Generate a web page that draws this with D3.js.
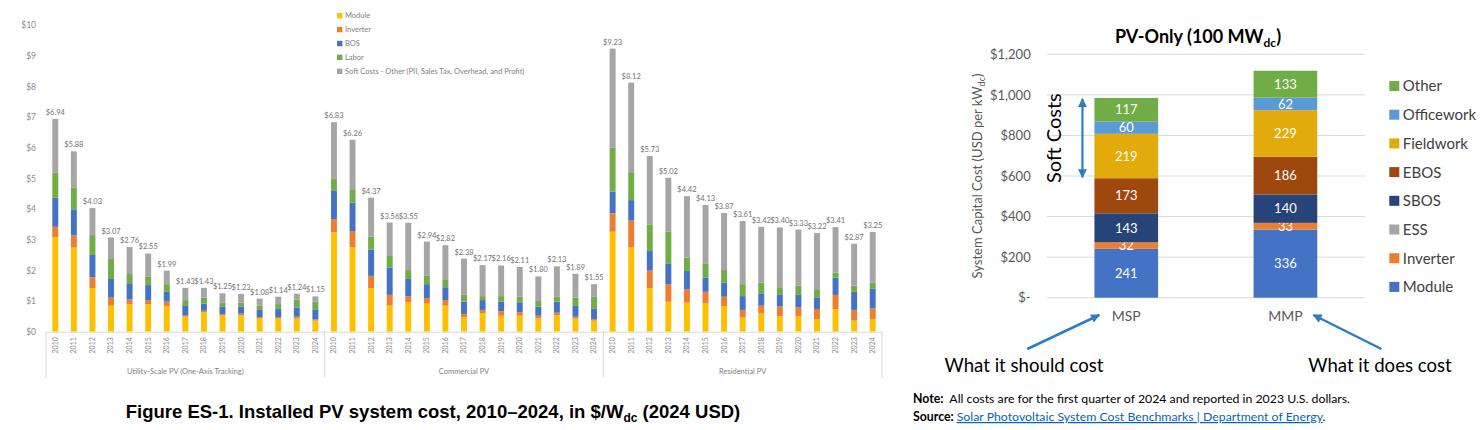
<!DOCTYPE html>
<html lang="en">
<head>
<meta charset="utf-8" />
<title>Installed PV system cost and PV-Only benchmark</title>
<script src="https://d3js.org/d3.v7.min.js"></script>
<style>
  body { margin: 0; background: #fff; }
  svg { display: block; }
</style>
</head>
<body>
<script>
// ---------- left chart data ($/Wdc) ----------
var years = ["2010","2011","2012","2013","2014","2015","2016","2017","2018","2019","2020","2021","2022","2023","2024"];
var sectors = ["Utility-Scale PV (One-Axis Tracking)", "Commercial PV", "Residential PV"];
var costParts = ["Module", "Inverter", "BOS", "Labor", "Soft Costs - Other (PII, Sales Tax, Overhead, and Profit)"];
var costTicks = [0,1,2,3,4,5,6,7,8,9,10];

var utilityModule   = [3.08,2.75,1.42,0.85,0.89,0.89,0.84,0.49,0.64,0.53,0.54,0.43,0.43,0.43,0.36];
var utilityInverter = [0.34,0.39,0.35,0.26,0.16,0.14,0.14,0.05,0.04,0.05,0.05,0.05,0.05,0.06,0.04];
var utilityBOS      = [0.95,0.85,0.73,0.61,0.53,0.49,0.32,0.30,0.24,0.24,0.23,0.23,0.28,0.30,0.33];
var utilityLabor    = [0.81,0.71,0.65,0.65,0.30,0.27,0.25,0.19,0.19,0.13,0.13,0.13,0.14,0.26,0.25];
var utilitySoft     = [1.76,1.18,0.88,0.70,0.88,0.76,0.44,0.40,0.32,0.30,0.28,0.24,0.24,0.19,0.17];
var utilityTotal    = [6.94,5.88,4.03,3.07,2.76,2.55,1.99,1.43,1.43,1.25,1.23,1.08,1.14,1.24,1.15];

var commercialModule   = [3.24,2.76,1.42,0.85,0.96,0.92,0.85,0.47,0.60,0.52,0.52,0.43,0.54,0.43,0.36];
var commercialInverter = [0.43,0.52,0.40,0.35,0.20,0.17,0.18,0.11,0.11,0.15,0.12,0.09,0.08,0.06,0.05];
var commercialBOS      = [0.92,0.93,0.86,0.89,0.56,0.46,0.42,0.40,0.32,0.31,0.32,0.30,0.36,0.35,0.35];
var commercialLabor    = [0.41,0.41,0.42,0.38,0.29,0.27,0.26,0.22,0.13,0.18,0.18,0.18,0.16,0.27,0.38];
var commercialSoft     = [1.83,1.64,1.27,1.09,1.54,1.12,1.11,1.18,1.01,1.00,0.97,0.80,0.99,0.78,0.41];
var commercialTotal    = [6.83,6.26,4.37,3.56,3.55,2.94,2.82,2.38,2.17,2.16,2.11,1.80,2.13,1.89,1.55];

var residentialModule   = [3.26,2.76,1.42,0.98,0.95,0.92,0.84,0.46,0.60,0.51,0.51,0.41,0.73,0.36,0.41];
var residentialInverter = [0.60,0.86,0.57,0.57,0.43,0.38,0.30,0.25,0.25,0.31,0.28,0.33,0.47,0.35,0.35];
var residentialBOS      = [0.71,0.67,0.64,0.68,0.60,0.47,0.46,0.45,0.40,0.40,0.41,0.38,0.56,0.59,0.64];
var residentialLabor    = [1.44,0.91,0.87,1.03,0.44,0.44,0.41,0.39,0.35,0.23,0.30,0.24,0.17,0.20,0.20];
var residentialSoft     = [3.22,2.92,2.23,1.76,2.00,1.92,1.86,2.06,1.82,1.95,1.83,1.86,1.48,1.37,1.65];
var residentialTotal    = [9.23,8.12,5.73,5.02,4.42,4.13,3.87,3.61,3.42,3.40,3.33,3.22,3.41,2.87,3.25];

// ---------- right chart data (USD per kWdc) ----------
var capCategories = ["MSP", "MMP"];
var capParts = ["Module", "Inverter", "ESS", "SBOS", "EBOS", "Fieldwork", "Officework", "Other"];
var mspValues = [241, 32, 0, 143, 173, 219, 60, 117];
var mmpValues = [336, 33, 0, 140, 186, 229, 62, 133];
var capTicks = [0, 200, 400, 600, 800, 1000, 1200];

var leftColors = ["#FFC000", "#ED7D31", "#4472C4", "#70AD47", "#A5A5A5"];
var rightColors = ["#4472C4", "#ED7D31", "#A5A5A5", "#264478", "#9E480E", "#E2AA0A", "#5B9BD5", "#70AD47"];
var font = "Lato, 'Open Sans', sans-serif";
var arrowBlue = "#2E7DC0";

var w = 1483, h = 430;
var svg = d3.select("body").append("svg").attr("width", w).attr("height", h);

// ================= LEFT: installed cost 2010-2024 =================
var partKeys = ["module", "inverter", "bos", "labor", "soft"];
var sectorSeries = [
  [utilityModule, utilityInverter, utilityBOS, utilityLabor, utilitySoft, utilityTotal],
  [commercialModule, commercialInverter, commercialBOS, commercialLabor, commercialSoft, commercialTotal],
  [residentialModule, residentialInverter, residentialBOS, residentialLabor, residentialSoft, residentialTotal]
];

var rows = [];
sectorSeries.forEach(function (s, i) {
  years.forEach(function (yr, j) {
    var r = { key: i + "-" + yr, year: yr, sector: i, total: s[5][j] };
    partKeys.forEach(function (k, n) { r[k] = s[n][j]; });
    rows.push(r);
  });
});

var xL = d3.scaleBand()
  .domain(rows.map(function (d) { return d.key; }))
  .range([46, 882])
  .paddingInner(0.68)
  .paddingOuter(0.34);

var yL = d3.scaleLinear().domain([0, 10]).range([331.7, 25]);

var stackL = d3.stack().keys(partKeys)(rows);

svg.append("g").selectAll("g")
  .data(stackL)
  .enter().append("g")
  .attr("fill", function (d, i) { return leftColors[i]; })
  .selectAll("rect")
  .data(function (d) { return d; })
  .enter().append("rect")
  .attr("x", function (d) { return xL(d.data.key); })
  .attr("y", function (d) { return yL(d[1]); })
  .attr("width", xL.bandwidth())
  .attr("height", function (d) { return yL(d[0]) - yL(d[1]); });

// total labels
svg.append("g").selectAll("text")
  .data(rows)
  .enter().append("text")
  .attr("x", function (d) { return xL(d.key) + xL.bandwidth() / 2; })
  .attr("y", function (d) { return yL(d.total) - 4; })
  .attr("text-anchor", "middle")
  .attr("font-family", font)
  .attr("font-size", "7.5px")
  .attr("fill", "#737373")
  .text(function (d) { return "$" + d.total.toFixed(2); });

// y axis
var yAxisL = svg.append("g")
  .attr("transform", "translate(39,0)")
  .call(d3.axisLeft(yL).tickValues(costTicks).tickSize(0).tickPadding(3)
    .tickFormat(function (d) { return "$" + d; }));
yAxisL.select(".domain").remove();
yAxisL.selectAll("text").attr("font-family", font).attr("font-size", "8.5px").attr("fill", "#8c8c8c");

// x axis (years)
var xAxisL = svg.append("g")
  .attr("transform", "translate(0," + yL(0) + ")")
  .call(d3.axisBottom(xL).tickSize(0).tickSizeOuter(0)
    .tickFormat(function (k) { return k.split("-")[1]; }));
xAxisL.select(".domain").attr("stroke", "#d9d9d9");
xAxisL.selectAll("text")
  .attr("transform", "rotate(-90)")
  .attr("x", -5.5).attr("y", 0).attr("dy", "0.35em")
  .attr("text-anchor", "end")
  .attr("font-family", font).attr("font-size", "7px").attr("fill", "#8c8c8c");

// sector separators and labels
var bounds = [xL.range()[0]];
for (var i = 1; i < sectors.length; i++) {
  var last = xL((i - 1) + "-" + years[years.length - 1]) + xL.bandwidth();
  var first = xL(i + "-" + years[0]);
  bounds.push((last + first) / 2);
}
bounds.push(xL.range()[1]);

svg.append("g").selectAll("line")
  .data(bounds)
  .enter().append("line")
  .attr("x1", function (d) { return d; }).attr("x2", function (d) { return d; })
  .attr("y1", yL(0)).attr("y2", yL(0) + 46)
  .attr("stroke", "#d9d9d9");

svg.append("g").selectAll("text")
  .data(sectors)
  .enter().append("text")
  .attr("x", function (d, i) { return (bounds[i] + bounds[i + 1]) / 2; })
  .attr("y", yL(0) + 42)
  .attr("text-anchor", "middle")
  .attr("font-family", font).attr("font-size", "7.5px").attr("fill", "#7f7f7f")
  .text(function (d) { return d; });

// legend
var legL = svg.append("g").attr("transform", "translate(337,15.7)");
costParts.forEach(function (p, i) {
  var g = legL.append("g").attr("transform", "translate(0," + (i * 13.9) + ")");
  g.append("rect").attr("x", 0).attr("y", -2.7).attr("width", 5.4).attr("height", 5.4).attr("fill", leftColors[i]);
  g.append("text").attr("x", 8).attr("y", 0).attr("dy", "0.35em")
    .attr("font-family", font).attr("font-size", "7.5px").attr("fill", "#7f7f7f").text(p);
});

// figure caption
var cap = svg.append("text")
  .attr("x", 433).attr("y", 418)
  .attr("text-anchor", "middle")
  .attr("font-family", "'Liberation Sans', Arial, sans-serif")
  .attr("font-weight", "bold").attr("font-size", "18.5px").attr("fill", "#000");
cap.append("tspan").text("Figure ES-1. Installed PV system cost, 2010\u20132024, in $/W");
cap.append("tspan").attr("dy", 4).attr("font-size", "12px").text("dc");
cap.append("tspan").attr("dy", -4).text(" (2024 USD)");

// ================= RIGHT: PV-Only benchmark =================
var capRows = capCategories.map(function (c, i) {
  var vals = i === 0 ? mspValues : mmpValues;
  var r = { cat: c };
  capParts.forEach(function (p, n) { r[p] = vals[n]; });
  return r;
});

var xR = d3.scaleBand().domain(capCategories).range([1046.7, 1365]).paddingInner(0.6).paddingOuter(0.3);
var yR = d3.scaleLinear().domain([0, 1200]).range([297.7, 54.3]);

// gridlines
svg.append("g").selectAll("line")
  .data(capTicks)
  .enter().append("line")
  .attr("x1", xR.range()[0]).attr("x2", xR.range()[1])
  .attr("y1", function (d) { return yR(d); }).attr("y2", function (d) { return yR(d); })
  .attr("stroke", "#d9d9d9").attr("stroke-width", 1);

var yAxisR = svg.append("g")
  .attr("transform", "translate(" + (xR.range()[0] - 13) + ",0)")
  .call(d3.axisLeft(yR).tickValues(capTicks).tickSize(0).tickPadding(3)
    .tickFormat(function (d) { return d === 0 ? "$-" : "$" + d3.format(",")(d); }));
yAxisR.select(".domain").remove();
yAxisR.selectAll("text").attr("font-family", font).attr("font-size", "13px").attr("fill", "#595959");

var stackR = d3.stack().keys(capParts)(capRows);

var layers = svg.append("g").selectAll("g")
  .data(stackR)
  .enter().append("g")
  .attr("fill", function (d, i) { return rightColors[i]; });

layers.selectAll("rect")
  .data(function (d) { return d; })
  .enter().append("rect")
  .attr("x", function (d) { return xR(d.data.cat); })
  .attr("y", function (d) { return yR(d[1]); })
  .attr("width", xR.bandwidth())
  .attr("height", function (d) { return yR(d[0]) - yR(d[1]); });

layers.selectAll("text")
  .data(function (d) { return d.filter(function (s) { return s[1] - s[0] > 0; }); })
  .enter().append("text")
  .attr("x", function (d) { return xR(d.data.cat) + xR.bandwidth() / 2; })
  .attr("y", function (d) { return (yR(d[0]) + yR(d[1])) / 2; })
  .attr("dy", "0.36em")
  .attr("text-anchor", "middle")
  .attr("font-family", font).attr("font-size", "13px").attr("fill", "#fff")
  .text(function (d) { return d[1] - d[0]; });

// category labels
svg.append("g").selectAll("text")
  .data(capCategories)
  .enter().append("text")
  .attr("x", function (d) { return xR(d) + xR.bandwidth() / 2; })
  .attr("y", 321)
  .attr("text-anchor", "middle")
  .attr("font-family", font).attr("font-size", "14px").attr("fill", "#595959")
  .text(function (d) { return d; });

// title
var tR = svg.append("text")
  .attr("x", 1198).attr("y", 42.5)
  .attr("text-anchor", "middle")
  .attr("font-family", font).attr("font-weight", "bold").attr("font-size", "18px").attr("fill", "#000");
tR.append("tspan").text("PV-Only (100 MW");
tR.append("tspan").attr("dy", 4).attr("font-size", "12px").text("dc");
tR.append("tspan").attr("dy", -4).text(")");

// y axis title
var yt = svg.append("text")
  .attr("transform", "translate(982," + ((yR(0) + yR(1200)) / 2) + ") rotate(-90)")
  .attr("text-anchor", "middle")
  .attr("font-family", font).attr("font-size", "13px").attr("fill", "#595959");
yt.append("tspan").text("System Capital Cost (USD per kW");
yt.append("tspan").attr("dy", 3).attr("font-size", "9px").text("dc");
yt.append("tspan").attr("dy", -3).text(")");

// legend (top to bottom: reverse stack order)
var legR = svg.append("g").attr("transform", "translate(1389.3,86)");
capParts.slice().reverse().forEach(function (p, i) {
  var g = legR.append("g").attr("transform", "translate(0," + (i * 28.7) + ")");
  g.append("rect").attr("x", 0).attr("y", -5).attr("width", 10).attr("height", 10)
    .attr("fill", rightColors[capParts.length - 1 - i]);
  g.append("text").attr("x", 13.5).attr("y", 0).attr("dy", "0.36em")
    .attr("font-family", font).attr("font-size", "15px").attr("fill", "#404040").text(p);
});

// arrows
var defs = svg.append("defs");
defs.append("marker")
  .attr("id", "head")
  .attr("viewBox", "0 0 10 10")
  .attr("refX", 9).attr("refY", 5)
  .attr("markerUnits", "userSpaceOnUse")
  .attr("markerWidth", 11).attr("markerHeight", 9)
  .attr("orient", "auto-start-reverse")
  .append("path").attr("d", "M0,0 L10,5 L0,10 z").attr("fill", arrowBlue);

// soft costs span (fieldwork + officework + other of MSP)
var softStart = mspValues.slice(0, 5).reduce(function (a, b) { return a + b; }, 0);
var mspTotal = mspValues.reduce(function (a, b) { return a + b; }, 0);
var mspLeft = xR("MSP");
svg.append("line")
  .attr("x1", mspLeft - 12).attr("x2", mspLeft - 12)
  .attr("y1", yR(mspTotal) + 1).attr("y2", yR(softStart) - 1)
  .attr("stroke", arrowBlue).attr("stroke-width", 2.2)
  .attr("marker-start", "url(#head)").attr("marker-end", "url(#head)");

svg.append("text")
  .attr("transform", "translate(1061," + ((yR(mspTotal) + yR(softStart)) / 2) + ") rotate(-90)")
  .attr("text-anchor", "middle")
  .attr("font-family", font).attr("font-size", "20px").attr("fill", "#000")
  .text("Soft Costs");

var mspMid = xR("MSP") + xR.bandwidth() / 2;
var mmpMid = xR("MMP") + xR.bandwidth() / 2;
svg.append("line")
  .attr("x1", mspMid - 99).attr("y1", 349)
  .attr("x2", mspMid - 27).attr("y2", 315)
  .attr("stroke", arrowBlue).attr("stroke-width", 2.5)
  .attr("marker-end", "url(#head)");
svg.append("line")
  .attr("x1", mmpMid + 96).attr("y1", 349)
  .attr("x2", mmpMid + 28).attr("y2", 315)
  .attr("stroke", arrowBlue).attr("stroke-width", 2.5)
  .attr("marker-end", "url(#head)");

svg.append("text")
  .attr("x", 1024).attr("y", 372)
  .attr("text-anchor", "middle")
  .attr("font-family", font).attr("font-size", "18.6px").attr("fill", "#000")
  .text("What it should cost");
svg.append("text")
  .attr("x", 1380).attr("y", 372)
  .attr("text-anchor", "middle")
  .attr("font-family", font).attr("font-size", "18.6px").attr("fill", "#000")
  .text("What it does cost");

// notes
var note = svg.append("text")
  .attr("x", 913).attr("y", 403)
  .attr("font-family", font).attr("font-size", "12.3px").attr("fill", "#000");
note.append("tspan").attr("font-weight", "bold").text("Note:");
note.append("tspan").text("\u00a0 All costs are for the first quarter of 2024 and reported in 2023 U.S. dollars.");

var src = svg.append("text")
  .attr("x", 913).attr("y", 421)
  .attr("font-family", font).attr("font-size", "12.3px").attr("fill", "#000");
src.append("tspan").attr("font-weight", "bold").text("Source: ");
src.append("tspan").attr("fill", "#0563C1").attr("text-decoration", "underline")
  .text("Solar Photovoltaic System Cost Benchmarks | Department of Energy");
src.append("tspan").text(".");
</script>
</body>
</html>
